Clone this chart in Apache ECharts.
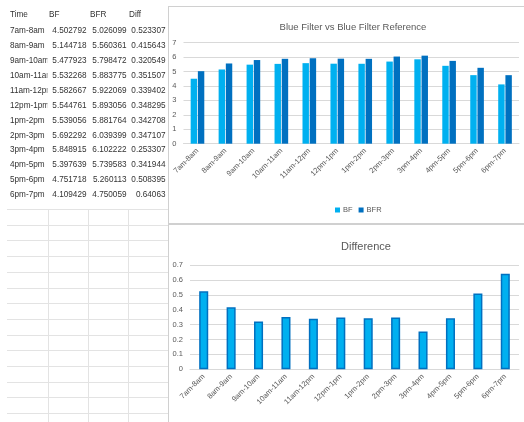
<!DOCTYPE html>
<html>
<head>
<meta charset="utf-8">
<script src="https://cdn.jsdelivr.net/npm/echarts@6/dist/echarts.min.js"></script>
<style>
  html, body { margin: 0; padding: 0; background: #ffffff; }
  #c { width: 524px; height: 422px; }
</style>
</head>
<body>
<div id="c"></div>
<script>
// Hourly readings: blue filter (BF), blue filter reference (BFR) and their difference
const headers = ['Time', 'BF', 'BFR', 'Diff'];
const times = ['7am-8am', '8am-9am', '9am-10am', '10am-11am', '11am-12pm', '12pm-1pm',
               '1pm-2pm', '2pm-3pm', '3pm-4pm', '4pm-5pm', '5pm-6pm', '6pm-7pm'];
const bf = [4.502792, 5.144718, 5.477923, 5.532268, 5.582667, 5.544761,
            5.539056, 5.692292, 5.848915, 5.397639, 4.751718, 4.109429];
const bfr = [5.026099, 5.560361, 5.798472, 5.883775, 5.922069, 5.893056,
             5.881764, 6.039399, 6.102222, 5.739583, 5.260113, 4.750059];
const diff = [0.523307, 0.415643, 0.320549, 0.351507, 0.339402, 0.348295,
              0.342708, 0.347107, 0.253307, 0.341944, 0.508395, 0.64063];

const FONT = "'Liberation Sans', Arial, sans-serif";
const TXT = '#333333';
const AXT = '#595959';
const GRIDC = '#d9d9d9';
const SHEETC = '#e3e3e3';

// ---- worksheet cells drawn as graphic elements ----
const colLeft = [10, 49, 90, 129];
const colRight = [48, 88, 128, 167];
const headerY = 14.5;
const rowY = i => 30.7 + i * 14.94;
const cellFont = '8.2px ' + FONT;

const sheet = [];
function txt(s, x, y, align, z) {
  sheet.push({
    type: 'text', z: z, silent: true,
    style: { text: s, x: x, y: y, fill: TXT, font: cellFont,
             align: align, textAlign: align, verticalAlign: 'middle', textVerticalAlign: 'middle' }
  });
}
headers.forEach((h, c) => txt(h, colLeft[c], headerY, 'left', 3));
times.forEach((t, i) => txt(t, colLeft[0], rowY(i), 'left', 1));
// filled cells to the right hide the overflow of long time labels
sheet.push({ type: 'rect', z: 2, silent: true,
  shape: { x: 47.5, y: 22, width: 120, height: 180 }, style: { fill: '#ffffff' } });
[bf, bfr, diff].forEach((arr, c) =>
  arr.forEach((v, i) => txt(String(v), colRight[c + 1] - 1.5, rowY(i), 'right', 3)));

// empty worksheet grid below the data block
const gridTop = 209, gridStep = 15.7;
for (let k = 0; gridTop + k * gridStep < 422; k++) {
  const y = Math.round(gridTop + k * gridStep) + 0.5;
  sheet.push({ type: 'line', z: 0, silent: true,
    shape: { x1: 7, y1: y, x2: 168, y2: y }, style: { stroke: SHEETC, lineWidth: 1 } });
}
[48, 88, 128].forEach(x => sheet.push({ type: 'line', z: 0, silent: true,
  shape: { x1: x + 0.5, y1: gridTop, x2: x + 0.5, y2: 422 }, style: { stroke: SHEETC, lineWidth: 1 } }));

// chart frames
sheet.push({ type: 'line', z: 0, silent: true,
  shape: { x1: 168, y1: 6.5, x2: 524, y2: 6.5 }, style: { stroke: '#d0d0d0', lineWidth: 1 } });
sheet.push({ type: 'line', z: 0, silent: true,
  shape: { x1: 168.5, y1: 6, x2: 168.5, y2: 422 }, style: { stroke: '#d0d0d0', lineWidth: 1 } });
sheet.push({ type: 'line', z: 0, silent: true,
  shape: { x1: 168, y1: 224, x2: 524, y2: 224 }, style: { stroke: '#d0d0d0', lineWidth: 2 } });

const axisLabel = { color: AXT, fontFamily: FONT, fontSize: 7.5 };

const option = {
  animation: false,
  backgroundColor: '#ffffff',
  title: [
    { text: 'Blue Filter vs Blue Filter Reference', left: 348, top: 17, textAlign: 'center',
      textStyle: { color: AXT, fontFamily: FONT, fontSize: 9.5, fontWeight: 'normal' } },
    { text: 'Difference', left: 361, top: 236, textAlign: 'center',
      textStyle: { color: AXT, fontFamily: FONT, fontSize: 11, fontWeight: 'normal' } }
  ],
  legend: {
    data: ['BF', 'BFR'], left: 330, top: 201, icon: 'rect',
    itemWidth: 5, itemHeight: 5, itemGap: 6,
    textStyle: { color: AXT, fontFamily: FONT, fontSize: 7.5, padding: [0, 0, 0, -2] }
  },
  grid: [
    { left: 183.5, top: 42.7, width: 335.5, height: 101 },
    { left: 190, top: 265, width: 329, height: 104.3 }
  ],
  xAxis: [
    { type: 'category', gridIndex: 0, data: times,
      axisLine: { lineStyle: { color: GRIDC } }, axisTick: { show: false },
      axisLabel: Object.assign({ rotate: 45, margin: 6, interval: 0 }, axisLabel) },
    { type: 'category', gridIndex: 1, data: times,
      axisLine: { lineStyle: { color: GRIDC } }, axisTick: { show: false },
      axisLabel: Object.assign({ rotate: 45, margin: 6, interval: 0 }, axisLabel) }
  ],
  yAxis: [
    { type: 'value', gridIndex: 0, min: 0, max: 7, interval: 1,
      axisLine: { show: false }, axisTick: { show: false },
      splitLine: { lineStyle: { color: GRIDC } },
      axisLabel: Object.assign({ margin: 7 }, axisLabel) },
    { type: 'value', gridIndex: 1, min: 0, max: 0.7, interval: 0.1,
      axisLine: { show: false }, axisTick: { show: false },
      splitLine: { lineStyle: { color: GRIDC } },
      axisLabel: Object.assign({ margin: 7 }, axisLabel) }
  ],
  series: [
    { name: 'BF', type: 'bar', xAxisIndex: 0, yAxisIndex: 0, data: bf,
      barWidth: '23%', barGap: '12%', itemStyle: { color: '#00B0F0' } },
    { name: 'BFR', type: 'bar', xAxisIndex: 0, yAxisIndex: 0, data: bfr,
      barWidth: '23%', barGap: '12%', itemStyle: { color: '#0070C0' } },
    { name: 'Diff', type: 'bar', xAxisIndex: 1, yAxisIndex: 1, data: diff,
      barWidth: '33%',
      itemStyle: { color: '#00B0F0', borderColor: '#0070C0', borderWidth: 1.5 } }
  ],
  graphic: { elements: sheet }
};

echarts.init(document.getElementById('c'), null, { renderer: 'canvas' }).setOption(option);
</script>
</body>
</html>
